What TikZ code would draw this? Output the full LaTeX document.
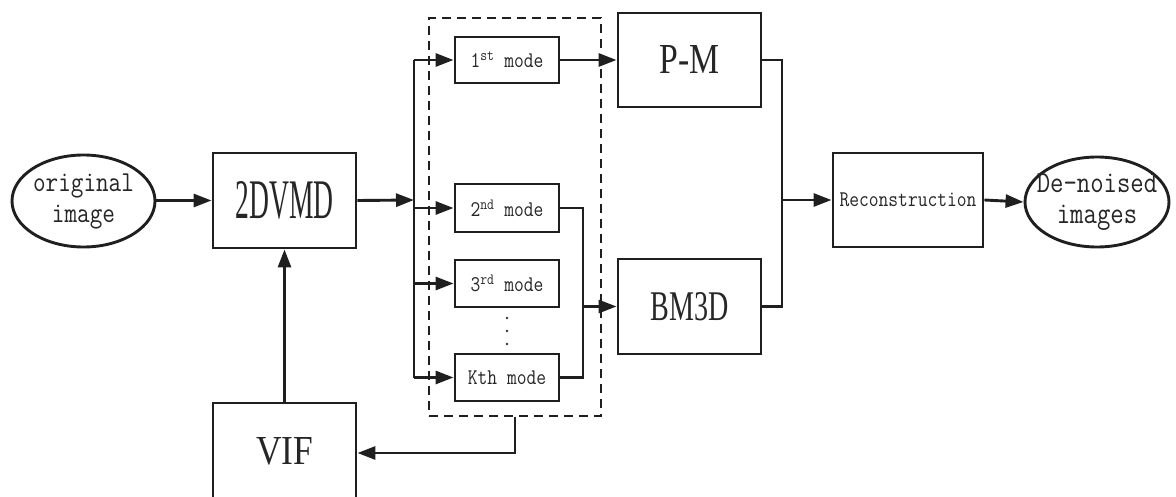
\documentclass[tikz,border=0pt]{standalone}
\usepackage{fontspec}
\newfontfamily\bigserif{Liberation Serif}
\usetikzlibrary{arrows.meta,shapes.geometric}
\newcommand{\tall}[1]{\scalebox{1}[1.18]{#1}}
\begin{document}
\begin{tikzpicture}[x=1pt,y=-1pt,
  ink/.style={draw=black!88},
  box/.style={ink,line width=2.9pt,rectangle,inner sep=0pt,text=black!85},
  oval/.style={ink,line width=2.9pt,ellipse,inner sep=0pt},
  conn/.style={ink,line width=2.9pt},
  arr/.style={conn,-{Triangle[length=18pt,width=13pt]}},
  modebox/.style={box,minimum width=104pt,minimum height=47pt,font=\fontsize{19}{22}\ttfamily},
  bigbox/.style={box,minimum width=143pt,minimum height=95pt,font=\bigserif},
  ovaltext/.style={align=center,inner sep=0pt,text=black!85},
]
\useasboundingbox (0,0) rectangle (1176,497);

% dashed group
\node[ink,dashed,dash pattern=on 9pt off 6pt,line width=1.9pt,rectangle,inner sep=0pt,
      minimum width=172pt,minimum height=398pt] (grp) at (515,217) {};

% left part
\node[oval,minimum width=143pt,minimum height=92pt] (orig) at (83.5,201) {};
\node[ovaltext,font=\fontsize{24.5}{31}\ttfamily] (origt) at (orig.center) {\tall{original}\\\tall{image}};
\node[bigbox] (dvmd) at (284.5,200.5) {\resizebox{98pt}{37pt}{2DVMD}};
\node[bigbox,minimum height=100pt] (vif) at (284.5,453) {\raisebox{5pt}{\resizebox{57pt}{27pt}{VIF}}};

% modes
\node[modebox,minimum height=46pt] (m1) at (507,60) {\tall{1\textsuperscript{st} mode}};
\node[modebox,minimum height=48pt] (m2) at (507,208) {\tall{2\textsuperscript{nd} mode}};
\node[modebox] (m3) at (507,283.5) {\tall{3\textsuperscript{rd} mode}};
\node[modebox] (mk) at (507,377.5) {\tall{Kth mode}};
\fill[black!80] (507,318) circle (1.3pt) (507,331) circle (1.3pt) (507,344) circle (1.3pt);

% right part
\node[bigbox,minimum height=94pt] (pm) at (689.5,60) {\resizebox{60pt}{28pt}{P-M}};
\node[bigbox] (bm) at (689.5,306.5) {\resizebox{78pt}{28pt}{BM3D}};
\node[box,minimum width=150pt,minimum height=94pt,font=\fontsize{19}{22}\ttfamily] (rec) at (908,200) {\tall{Reconstruction}};
\node[oval,minimum width=144pt,minimum height=90pt] (out) at (1097,202) {};
\node[ovaltext,font=\fontsize{26}{31}\ttfamily] (outt) at (out.center) {\tall{De-noised}\\\tall{images}};

% junction coordinates
\coordinate (bus) at (414,200);
\coordinate (btop) at (414,60);
\coordinate (bbot) at (414,377.5);
\coordinate (j2) at (583,306.5);
\coordinate (j3) at (782,200);

% connectors
\draw[arr] (orig.east |- dvmd.west) -- (dvmd.west);
\draw[arr] (dvmd.east) -- (bus);
\draw[conn] (btop) -- (bbot);
\draw[arr] (btop) -- (m1.west);
\draw[arr] (m2.west -| bus) -- (m2.west);
\draw[arr] (m3.west -| bus) -- (m3.west);
\draw[arr] (bbot) -- (mk.west);

\draw[arr] (m1.east) -- (pm.west);
\draw[conn] (m2.east) -| (j2);
\draw[conn] (mk.east) -| (j2);
\draw[arr] (j2) -- (bm.west);

\draw[conn] (pm.east) -| (j3);
\draw[conn] (bm.east) -| (j3);
\draw[arr] (j3) -- (rec.west);
\draw[arr] (rec.east) -- (out.west);

\draw[arr] (vif.north) -- (dvmd.south);
\draw[arr] (grp.south) |- (vif.east);
\end{tikzpicture}
\end{document}
